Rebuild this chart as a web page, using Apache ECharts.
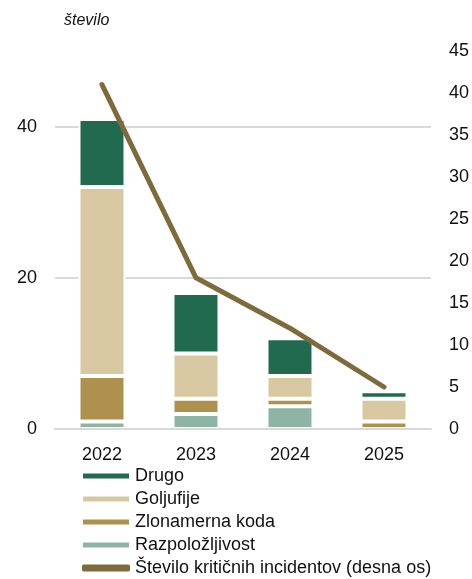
<!DOCTYPE html>
<html>
<head>
<meta charset="utf-8">
<script src="https://cdn.jsdelivr.net/npm/echarts@6/dist/echarts.min.js"></script>
<style>
  html, body { margin: 0; padding: 0; background: #fff; }
  #chart { width: 472px; height: 579px; }
</style>
</head>
<body>
<div id="chart"></div>
<script>
// data
const years = ['2022', '2023', '2024', '2025']
const razpolozljivost = [1, 2, 3, 0]
const zlonamernaKoda = [6, 2, 1, 1]
const goljufije = [25, 6, 3, 3]
const drugo = [9, 8, 5, 1]
const kriticni = [41, 18, 12, 5]

const FONT = '"Liberation Sans", Arial, sans-serif'
const TXT = '#111'

function barSeries(name, data, color) {
  return {
    name,
    type: 'bar',
    stack: 'total',
    barWidth: 47,
    itemStyle: { color, borderColor: '#fff', borderWidth: 2 },
    data,
  }
}

const chart = echarts.init(document.getElementById('chart'))

chart.setOption({
  animation: false,
  textStyle: { fontFamily: FONT },
  title: {
    text: 'število',
    left: 59,
    top: 8,
    textStyle: { fontSize: 16, fontStyle: 'italic', fontWeight: 'normal', color: TXT, fontFamily: FONT },
  },
  legend: {
    orient: 'vertical',
    left: 81,
    top: 467,
    padding: 0,
    itemWidth: 48,
    itemHeight: 7,
    itemGap: 5,
    textStyle: { fontSize: 18, color: TXT, fontFamily: FONT },
    data: [
      { name: 'Drugo', icon: 'rect' },
      { name: 'Goljufije', icon: 'rect' },
      { name: 'Zlonamerna koda', icon: 'rect' },
      { name: 'Razpoložljivost', icon: 'rect' },
      { name: 'Število kritičnih incidentov (desna os)', icon: 'roundRect' },
    ],
  },
  grid: { left: 55, right: 39, top: 51, bottom: 150 },
  xAxis: {
    type: 'category',
    data: years,
    z: 5,
    axisLine: { lineStyle: { color: '#d9d9d9', width: 2 } },
    axisTick: { length: 6, lineStyle: { color: '#d9d9d9', width: 2 } },
    axisLabel: { fontSize: 18, color: TXT, margin: 17, fontFamily: FONT },
  },
  yAxis: [
    {
      type: 'value',
      min: 0,
      max: 50,
      interval: 20,
      axisLine: { show: false },
      axisTick: { show: false },
      axisLabel: { fontSize: 18, color: TXT, margin: 18, showMaxLabel: false, fontFamily: FONT },
      splitLine: { showMinLine: false, showMaxLine: false, lineStyle: { color: '#d9d9d9', width: 2 } },
    },
    {
      type: 'value',
      min: 0,
      max: 45,
      interval: 5,
      axisLine: { show: false },
      axisTick: { show: false },
      axisLabel: { fontSize: 18, color: TXT, margin: 18, fontFamily: FONT },
      splitLine: { show: false },
    },
  ],
  series: [
    barSeries('Razpoložljivost', razpolozljivost, '#8db4a5'),
    barSeries('Zlonamerna koda', zlonamernaKoda, '#af914e'),
    barSeries('Goljufije', goljufije, '#d8c8a2'),
    barSeries('Drugo', drugo, '#216a50'),
    {
      name: 'Število kritičnih incidentov (desna os)',
      type: 'line',
      yAxisIndex: 1,
      symbol: 'none',
      itemStyle: { color: '#7e6a3a' },
      lineStyle: { color: '#7e6a3a', width: 5, cap: 'round', join: 'round' },
      data: kriticni,
    },
  ],
})
</script>
</body>
</html>
